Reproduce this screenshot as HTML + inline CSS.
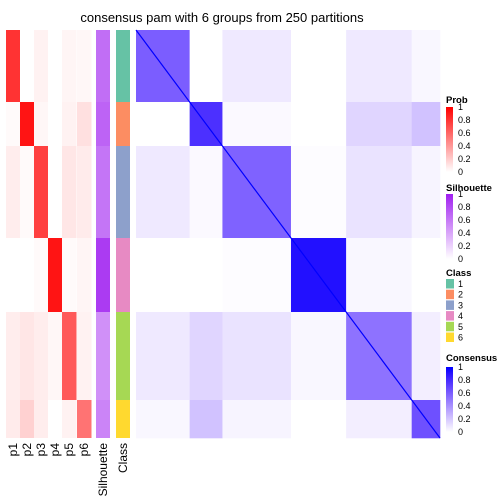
<!DOCTYPE html>
<html><head><meta charset="utf-8"><style>
body{margin:0;background:#fff;}
svg{display:block;font-family:"Liberation Sans",sans-serif;}
</style></head><body>
<svg id="c" width="504" height="504">
<text x="222" y="22" font-size="13" text-anchor="middle">consensus pam with 6 groups from 250 partitions</text>
</svg>
<script>
// data
const classSizes = [72, 44, 92, 74, 88, 38];
const classColors = ["#66C2A5","#FC8D62","#8DA0CB","#E78AC3","#A6D854","#FFD92F"];
const probMeans = [
 [0.80,0.00,0.05,0.00,0.04,0.03],
 [0.02,0.92,0.03,0.00,0.05,0.12],
 [0.07,0.02,0.75,0.00,0.10,0.08],
 [0.00,0.00,0.02,0.92,0.02,0.04],
 [0.07,0.10,0.07,0.03,0.65,0.05],
 [0.08,0.18,0.07,0.00,0.05,0.55]
];
const silhouette = [0.65,0.70,0.62,0.88,0.50,0.55];
const consensus = [
 [0.60,0.00,0.08,0.00,0.08,0.03],
 [0.00,0.78,0.02,0.00,0.15,0.22],
 [0.08,0.02,0.58,0.01,0.10,0.04],
 [0.00,0.00,0.01,0.92,0.03,0.00],
 [0.08,0.15,0.10,0.03,0.52,0.06],
 [0.03,0.22,0.04,0.00,0.06,0.65]
];
const colLabels = ["p1","p2","p3","p4","p5","p6"];
const legendTicks = ["0","0.2","0.4","0.6","0.8","1"];

const svg = document.getElementById('c');
const NS = "http://www.w3.org/2000/svg";
function mk(t, a){const e=document.createElementNS(NS,t);for(const k in a)e.setAttribute(k,a[k]);svg.appendChild(e);return e;}
function red(v){const c=Math.round(255*(1-v));return `rgb(255,${c},${c})`;}
function purple(v){return `rgb(${Math.round(255-v*95)},${Math.round(255-v*223)},${Math.round(255-v*15)})`;}
function blue(v){return `rgb(${Math.round(255*Math.pow(1-v,0.8))},${Math.round(255*Math.pow(1-v,1.1))},255)`;}

const topY=30, H=408;
const total = classSizes.reduce((a,b)=>a+b,0);
const ys=[topY]; classSizes.forEach(s=>ys.push(ys[ys.length-1]+s*H/total));
const hx0=136, HW=304;
const xs=[hx0]; classSizes.forEach(s=>xs.push(xs[xs.length-1]+s*HW/total));
const colX=[6,20,34,48,62,77];
const colW=14;

for(let c=0;c<6;c++){
  for(let k=0;k<6;k++){
    const r=mk('rect',{x:colX[c],y:ys[k],width:colW+0.5,height:ys[k+1]-ys[k],fill:red(probMeans[k][c])});
    
    
  }
  const t=mk('text',{transform:`translate(${colX[c]+11},${443}) rotate(-90)`,'font-size':12,'text-anchor':'end'});
  t.textContent=colLabels[c];
  
  
}
for(let k=0;k<6;k++){
  const s=mk('rect',{x:96,y:ys[k],width:14,height:ys[k+1]-ys[k],fill:purple(silhouette[k])});
  
  
  const c=mk('rect',{x:116,y:ys[k],width:14,height:ys[k+1]-ys[k],fill:classColors[k]});
  
  
}
[["Silhouette",107],["Class",127]].forEach(([l,x])=>{
  const t=mk('text',{transform:`translate(${x},443) rotate(-90)`,'font-size':12,'text-anchor':'end'});
  t.textContent=l;
  
  
});
for(let i=0;i<6;i++)for(let j=0;j<6;j++){
  const r=mk('rect',{x:xs[j],y:ys[i],width:xs[j+1]-xs[j]+0.3,height:ys[i+1]-ys[i]+0.3,fill:blue(consensus[i][j])});
  
  
}
const d=mk('line',{x1:hx0,y1:topY,x2:hx0+HW,y2:topY+H,stroke:'#0000ff','stroke-width':1.2});



function grad(id,fn){const g=document.createElementNS(NS,'linearGradient');g.setAttribute('id',id);g.setAttribute('x1',0);g.setAttribute('y1',1);g.setAttribute('x2',0);g.setAttribute('y2',0);
 for(let i=0;i<=10;i++){const s=document.createElementNS(NS,'stop');s.setAttribute('offset',i/10);s.setAttribute('stop-color',fn(i/10));g.appendChild(s);}return g;}
const defs=mk('defs',{});defs.appendChild(grad('gr',red));defs.appendChild(grad('gp',purple));defs.appendChild(grad('gb',blue));
function colorLegend(title,ty,by,gid,name){
  const t=mk('text',{x:446,y:ty,'font-size':9.5,'font-weight':'bold'});t.textContent=title;
  
  
  const b=mk('rect',{x:446,y:by,width:7,height:65,fill:`url(#${gid})`});
  
  
  legendTicks.forEach((l,i)=>{const tt=mk('text',{x:458,y:by+68-i*13,'font-size':9});tt.textContent=l;
    
    });
}
colorLegend('Prob',103,107,'gr','prob-legend');
colorLegend('Silhouette',191,194,'gp','silhouette-legend');
colorLegend('Consensus',361,367,'gb','consensus-legend');
const ct=mk('text',{x:446,y:276,'font-size':9.5,'font-weight':'bold'});ct.textContent='Class';


classColors.forEach((c,i)=>{
  const r=mk('rect',{x:446,y:279+i*10.7,width:8,height:9.5,fill:c});
  
  
  const t=mk('text',{x:458,y:287+i*10.7,'font-size':9});t.textContent=String(i+1);
  
  
});
</script>
</body></html>
